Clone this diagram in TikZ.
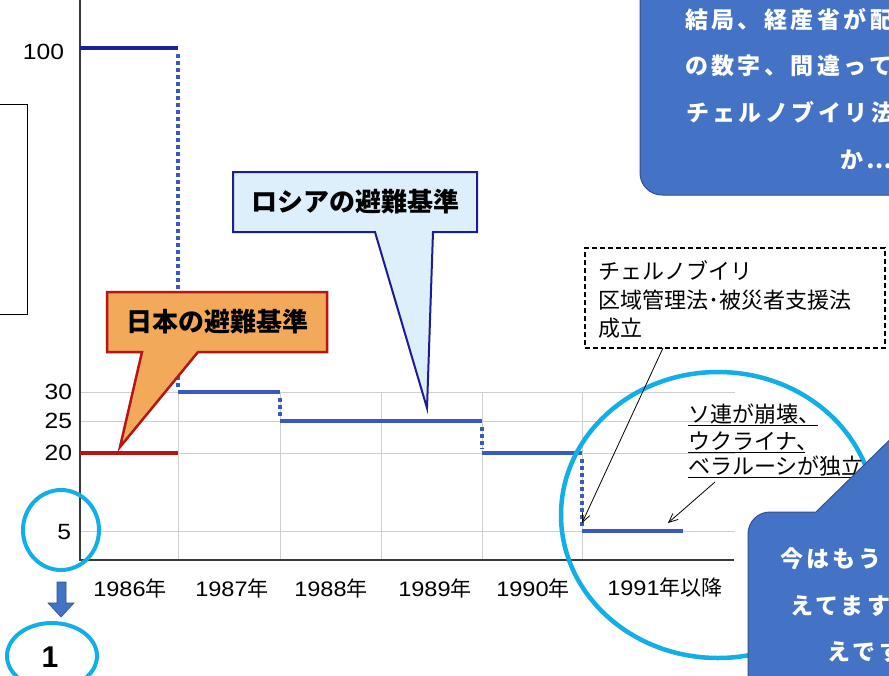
\documentclass[tikz,border=0pt]{standalone}
\usepackage{fontspec}
\setmainfont{Liberation Sans}
\newfontfamily\jp{Noto Sans CJK JP}
\newfontfamily\jpw[LetterSpace=15]{Noto Sans CJK JP}
\newfontfamily\numf[FakeStretch=1.12]{Liberation Sans}
\usetikzlibrary{arrows.meta}
\definecolor{lvlblue}{HTML}{3A59BE}
\definecolor{navyline}{HTML}{1E2296}
\definecolor{darkblue}{HTML}{1C1C96}
\definecolor{jpred}{HTML}{B81414}
\definecolor{jporange}{HTML}{F2A95A}
\definecolor{ruslight}{HTML}{DDEFFA}
\definecolor{calloutblue}{HTML}{4472C4}
\definecolor{calloutedge}{HTML}{2F528F}
\definecolor{cyanring}{HTML}{12AEE8}
\definecolor{gridgray}{HTML}{CFCFCF}
\definecolor{axisgray}{HTML}{3A3A3A}
\newcommand\yrlbl[1]{{\numf #1}{\jp 年}}
\begin{document}
\begin{tikzpicture}[x=1pt,y=-1pt,
  every node/.style={inner sep=0pt,outer sep=0pt},
  axisline/.style={draw=axisgray,line width=1.6pt},
  gridline/.style={draw=gridgray,line width=0.7pt},
  lvl/.style={draw=lvlblue,line width=3.5pt},
  dropline/.style={draw=lvlblue,line width=4.2pt,dash pattern=on 4pt off 3pt},
  numlbl/.style={font=\numf\fontsize{22}{22}\selectfont,anchor=east},
  yearlbl/.style={font=\fontsize{21}{21}\selectfont},
  chartjp/.style={font=\jp\fontsize{22}{22}\selectfont,anchor=west},
  calljp/.style={font=\jp\bfseries\fontsize{26}{26}\selectfont},
  cwhite/.style={font=\jpw\bfseries\fontsize{23}{23}\selectfont,text=white,anchor=west},
  callbox/.style={fill=calloutblue,draw=calloutedge,line width=1pt},
  ring/.style={draw=cyanring,line width=4.5pt},
  thinarrow/.style={draw=black,line width=0.8pt,-{Straight Barb[length=9pt,width=8pt]}}
]
\useasboundingbox (0,0) rectangle (889,675);
\clip (0,0) rectangle (889,675);
\fill[white] (0,0) rectangle (889,675);

% partial box at left edge
\draw[black,line width=0.8pt] (-5,104) rectangle (27,314);

% grid
\foreach \yy in {392,421,453,531} \draw[gridline] (80,\yy) -- (735,\yy);
\foreach \xx in {178,280,381,482,582} \draw[gridline] (\xx,392) -- (\xx,560);

% axes
\coordinate (origin) at (80,560);
\coordinate (ytop) at (80,0);
\coordinate (xend) at (734,560);
\draw[axisline] (ytop) -- (origin) -- (xend);

% y labels
\node[numlbl] (y100) at (64,52) {100};
\node[numlbl] (y30) at (72,392) {30};
\node[numlbl] (y25) at (72,421) {25};
\node[numlbl] (y20) at (72,453) {20};
\node[numlbl] (y5) at (71,532) {5};

% x labels
\node[yearlbl] (x86) at (130,588) {\yrlbl{1986}};
\node[yearlbl] (x87) at (232,588) {\yrlbl{1987}};
\node[yearlbl] (x88) at (331,588) {\yrlbl{1988}};
\node[yearlbl] (x89) at (435,588) {\yrlbl{1989}};
\node[yearlbl] (x90) at (533,588) {\yrlbl{1990}};
\node[yearlbl] (x91) at (665,588) {\yrlbl{1991}{\jp 以降}};

% step coordinates
\coordinate (p100a) at (80,48);
\coordinate (p100b) at (178,48);
\coordinate (p30a) at (178,392);
\coordinate (p30b) at (280,392);
\coordinate (p25a) at (280,421);
\coordinate (p25b) at (482,421);
\coordinate (p20a) at (482,453);
\coordinate (p20b) at (582,453);
\coordinate (p5a) at (582,531);
\coordinate (p5b) at (683,531);
\coordinate (r20a) at (80,453);
\coordinate (r20b) at (178,453);

\draw[dropline] ([yshift=-6pt]p100b) -- ([yshift=4pt]p30a);
\draw[dropline] ([yshift=-6pt]p30b) -- ([yshift=4pt]p25a);
\draw[dropline] ([yshift=-6pt]p25b) -- ([yshift=4pt]p20a);
\draw[dropline] ([yshift=-6pt]p20b) -- ([yshift=4pt]p5a);

\draw[draw=navyline,line width=3.5pt] (p100a) -- (p100b);
\draw[lvl] (p30a) -- (p30b);
\draw[lvl] (p25a) -- (p25b);
\draw[lvl] (p20a) -- (p20b);
\draw[lvl] (p5a) -- (p5b);
\draw[draw=jpred,line width=4pt] (r20a) -- (r20b);

% Japan callout
\coordinate (jptip) at (120,447);
\draw[fill=jporange,draw=jpred,line width=2.5pt,line join=miter]
  (107,292) -- (327,292) -- (327,352) -- (198,352) -- (jptip) -- (142,352) -- (107,352) -- cycle;
\node[calljp] (jplabel) at (217,322) {日本の避難基準};

% Russia callout
\coordinate (rutip) at (427,408);
\draw[fill=ruslight,draw=darkblue,line width=2pt,line join=miter]
  (233,172) -- (477,172) -- (477,232) -- (433,232) -- (rutip) -- (375,232) -- (233,232) -- cycle;
\node[calljp] (rulabel) at (355,202) {ロシアの避難基準};

% law box
\node[draw=black,line width=1.6pt,dash pattern=on 5pt off 3pt,minimum width=300pt,minimum height=100pt,anchor=north west] (lawbox) at (585,248) {};
\node[chartjp] (law1) at (598,271) {チェルノブイリ};
\node[chartjp] (law2) at (598,300) {区域管理法･被災者支援法};
\node[chartjp] (law3) at (598,328) {成立};

% big ring
\draw[ring] (718,515) ellipse [x radius=157,y radius=143];

% soviet text
\node[chartjp] (sov1) at (688,414) {ソ連が崩壊、};
\node[chartjp] (sov2) at (688,441) {ウクライナ、};
\node[chartjp] (sov3) at (688,466) {ベラルーシが独立};
\draw[black,line width=0.9pt] (688,425) -- (818,425);
\draw[black,line width=0.9pt] (688,452) -- (805,452);
\draw[black,line width=0.9pt] (688,477) -- (880,477);

% arrows
\draw[thinarrow] ([xshift=78pt]lawbox.south west) -- ([yshift=8pt]p5a);
\draw[thinarrow] (715,482) -- ([xshift=-15pt,yshift=8pt]p5b);

% bottom-right callout
\draw[callbox] (748,700) [rounded corners=22pt] -- (748,512) [sharp corners] -- (816,512) -- (910,420) -- (940,512) -- (970,512) -- (970,700) -- cycle;
\node[cwhite] (b1) at (780,559) {今はもう};
\node[cwhite] (b2) at (790,606) {えてます};
\node[cwhite] (b3) at (827,652) {えです};

% top-right callout
\draw[callbox,rounded corners=22pt] (640,-40) rectangle (970,195);
\node[cwhite] (t1) at (685,20) {結局、経産省が配};
\node[cwhite] (t2) at (685,66) {の数字、間違って};
\node[cwhite] (t3) at (686,113) {チェルノブイリ法};
\node[cwhite] (t4) at (840,160) {か…};

% small ring, arrow and "1"
\draw[ring,line width=4pt] (61,530) ellipse [x radius=38,y radius=40];
\draw[fill=calloutblue,draw=calloutedge,line width=0.6pt]
  (57,582) -- (66,582) -- (66,603) -- (74,603) -- (61,617) -- (48,603) -- (57,603) -- cycle;
\draw[ring,line width=4pt] (52,656) ellipse [x radius=45,y radius=33];
\node[font=\bfseries\fontsize{30}{30}\selectfont] (one) at (50,657) {1};
\end{tikzpicture}
\end{document}
